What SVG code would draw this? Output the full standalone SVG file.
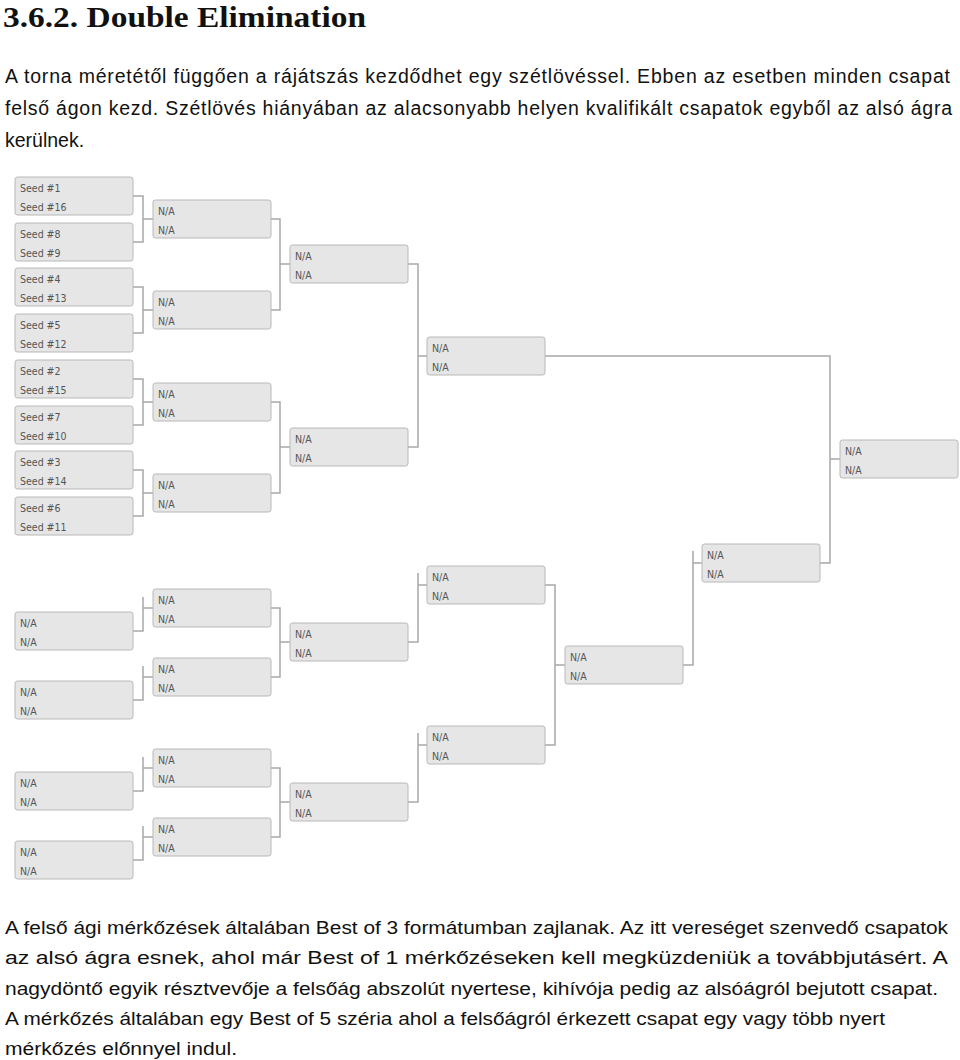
<svg xmlns="http://www.w3.org/2000/svg" width="960" height="1060" viewBox="0 0 960 1060">
<style>
.b{fill:#e6e6e6;stroke:#b8b8b8;stroke-width:1}
.t{font-family:"DejaVu Sans Condensed","DejaVu Sans",sans-serif;font-size:10.5px;fill:#555}
.p{font-family:"Liberation Sans",Arial,sans-serif;font-size:19.5px;fill:#111}
.q{font-family:"Liberation Sans",Arial,sans-serif;font-size:17.5px;fill:#111}
.c{fill:none;stroke:#a8a8a8;stroke-width:1.5}
</style>
<defs>
<g id="bx"><rect class="b" x="0" y="0" width="118" height="38" rx="2.5"/></g>
</defs>
<rect width="960" height="1060" fill="#fff"/>
<text x="3" y="27" font-family="Liberation Serif,serif" font-weight="bold" font-size="29" fill="#111" textLength="363" lengthAdjust="spacingAndGlyphs">3.6.2. Double Elimination</text>
<text class="p" x="5" y="83" textLength="945" lengthAdjust="spacing">A torna méretétől függően a rájátszás kezdődhet egy szétlövéssel. Ebben az esetben minden csapat</text>
<text class="p" x="5" y="115" textLength="947" lengthAdjust="spacing">felső ágon kezd. Szétlövés hiányában az alacsonyabb helyen kvalifikált csapatok egyből az alsó ágra</text>
<text class="p" x="5" y="147">kerülnek.</text>

<g id="connectors">
<path class="c" d="M133 196H143V242H133M143 219H153M133 287H143V333H133M143 310H153M133 379H143V425H133M143 402H153M133 470H143V516H133M143 493H153"/>
<path class="c" d="M270 219H280V310H270M280 264H290M270 402H280V493H270M280 447H290"/>
<path class="c" d="M408 264H418V447H408M418 356H427"/>
<path class="c" d="M545 356H830V563H820M830 459H840"/>
<path class="c" d="M133 631H143V597M143 608H153M133 700H143V666M143 677H153M133 791H143V757M143 768H153M133 860H143V826M143 837H153"/>
<path class="c" d="M270 608H280V677H270M280 642H290M270 768H280V837H270M280 802H290"/>
<path class="c" d="M408 642H418V573M418 585H427M408 802H418V733M418 745H427"/>
<path class="c" d="M545 585H555V745H545M555 665H565"/>
<path class="c" d="M682 665H693V551M693 563H703"/>
</g>

<g id="w1-1"><use href="#bx" x="15" y="177"/><text class="t" x="20" y="192">Seed #1</text><text class="t" x="20" y="211">Seed #16</text></g>
<g id="w1-2"><use href="#bx" x="15" y="223"/><text class="t" x="20" y="238">Seed #8</text><text class="t" x="20" y="257">Seed #9</text></g>
<g id="w1-3"><use href="#bx" x="15" y="268"/><text class="t" x="20" y="283">Seed #4</text><text class="t" x="20" y="302">Seed #13</text></g>
<g id="w1-4"><use href="#bx" x="15" y="314"/><text class="t" x="20" y="329">Seed #5</text><text class="t" x="20" y="348">Seed #12</text></g>
<g id="w1-5"><use href="#bx" x="15" y="360"/><text class="t" x="20" y="375">Seed #2</text><text class="t" x="20" y="394">Seed #15</text></g>
<g id="w1-6"><use href="#bx" x="15" y="406"/><text class="t" x="20" y="421">Seed #7</text><text class="t" x="20" y="440">Seed #10</text></g>
<g id="w1-7"><use href="#bx" x="15" y="451"/><text class="t" x="20" y="466">Seed #3</text><text class="t" x="20" y="485">Seed #14</text></g>
<g id="w1-8"><use href="#bx" x="15" y="497"/><text class="t" x="20" y="512">Seed #6</text><text class="t" x="20" y="531">Seed #11</text></g>

<g id="w2-1"><use href="#bx" x="153" y="200"/><text class="t" x="158" y="215">N/A</text><text class="t" x="158" y="234">N/A</text></g>
<g id="w2-2"><use href="#bx" x="153" y="291"/><text class="t" x="158" y="306">N/A</text><text class="t" x="158" y="325">N/A</text></g>
<g id="w2-3"><use href="#bx" x="153" y="383"/><text class="t" x="158" y="398">N/A</text><text class="t" x="158" y="417">N/A</text></g>
<g id="w2-4"><use href="#bx" x="153" y="474"/><text class="t" x="158" y="489">N/A</text><text class="t" x="158" y="508">N/A</text></g>
<g id="w3-1"><use href="#bx" x="290" y="245"/><text class="t" x="295" y="260">N/A</text><text class="t" x="295" y="279">N/A</text></g>
<g id="w3-2"><use href="#bx" x="290" y="428"/><text class="t" x="295" y="443">N/A</text><text class="t" x="295" y="462">N/A</text></g>
<g id="w4"><use href="#bx" x="427" y="337"/><text class="t" x="432" y="352">N/A</text><text class="t" x="432" y="371">N/A</text></g>
<g id="final"><use href="#bx" x="840" y="440"/><text class="t" x="845" y="455">N/A</text><text class="t" x="845" y="474">N/A</text></g>

<g id="l1-1"><use href="#bx" x="15" y="612"/><text class="t" x="20" y="627">N/A</text><text class="t" x="20" y="646">N/A</text></g>
<g id="l1-2"><use href="#bx" x="15" y="681"/><text class="t" x="20" y="696">N/A</text><text class="t" x="20" y="715">N/A</text></g>
<g id="l1-3"><use href="#bx" x="15" y="772"/><text class="t" x="20" y="787">N/A</text><text class="t" x="20" y="806">N/A</text></g>
<g id="l1-4"><use href="#bx" x="15" y="841"/><text class="t" x="20" y="856">N/A</text><text class="t" x="20" y="875">N/A</text></g>
<g id="l2-1"><use href="#bx" x="153" y="589"/><text class="t" x="158" y="604">N/A</text><text class="t" x="158" y="623">N/A</text></g>
<g id="l2-2"><use href="#bx" x="153" y="658"/><text class="t" x="158" y="673">N/A</text><text class="t" x="158" y="692">N/A</text></g>
<g id="l2-3"><use href="#bx" x="153" y="749"/><text class="t" x="158" y="764">N/A</text><text class="t" x="158" y="783">N/A</text></g>
<g id="l2-4"><use href="#bx" x="153" y="818"/><text class="t" x="158" y="833">N/A</text><text class="t" x="158" y="852">N/A</text></g>
<g id="l3-1"><use href="#bx" x="290" y="623"/><text class="t" x="295" y="638">N/A</text><text class="t" x="295" y="657">N/A</text></g>
<g id="l3-2"><use href="#bx" x="290" y="783"/><text class="t" x="295" y="798">N/A</text><text class="t" x="295" y="817">N/A</text></g>
<g id="l4-1"><use href="#bx" x="427" y="566"/><text class="t" x="432" y="581">N/A</text><text class="t" x="432" y="600">N/A</text></g>
<g id="l4-2"><use href="#bx" x="427" y="726"/><text class="t" x="432" y="741">N/A</text><text class="t" x="432" y="760">N/A</text></g>
<g id="l5"><use href="#bx" x="565" y="646"/><text class="t" x="570" y="661">N/A</text><text class="t" x="570" y="680">N/A</text></g>
<g id="l6"><use href="#bx" x="702" y="544"/><text class="t" x="707" y="559">N/A</text><text class="t" x="707" y="578">N/A</text></g>

<text class="q" x="5" y="934" textLength="943" lengthAdjust="spacingAndGlyphs">A felső ági mérkőzések általában Best of 3 formátumban zajlanak. Az itt vereséget szenvedő csapatok</text>
<text class="q" x="5" y="964" textLength="943" lengthAdjust="spacingAndGlyphs">az alsó ágra esnek, ahol már Best of 1 mérkőzéseken kell megküzdeniük a továbbjutásért. A</text>
<text class="q" x="5" y="995" textLength="933" lengthAdjust="spacingAndGlyphs">nagydöntő egyik résztvevője a felsőág abszolút nyertese, kihívója pedig az alsóágról bejutott csapat.</text>
<text class="q" x="5" y="1025" textLength="880" lengthAdjust="spacingAndGlyphs">A mérkőzés általában egy Best of 5 széria ahol a felsőágról érkezett csapat egy vagy több nyert</text>
<text class="q" x="5" y="1055" textLength="232" lengthAdjust="spacingAndGlyphs">mérkőzés előnnyel indul.</text>
</svg>
